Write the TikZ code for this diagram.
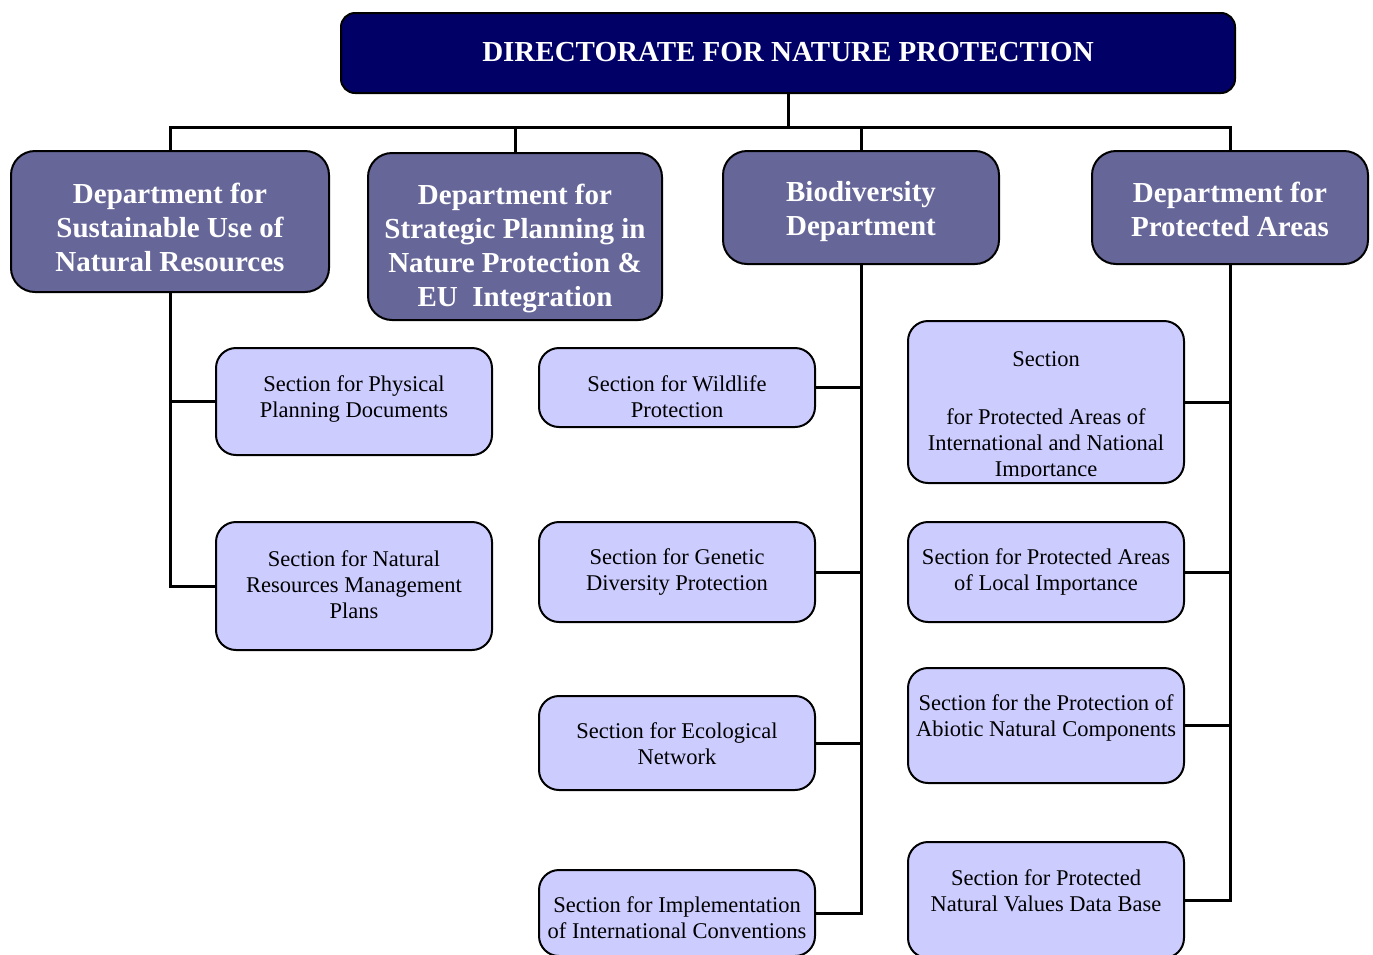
\documentclass[tikz,border=0pt]{standalone}
\usepackage{fontspec}
\setmainfont{Liberation Serif}
\definecolor{navy}{RGB}{0,0,102}
\definecolor{deptfill}{RGB}{102,102,153}
\definecolor{secfill}{RGB}{204,204,255}
\begin{document}
\begin{tikzpicture}[x=1pt,y=-1pt,
  topbox/.style={draw=black, line width=2pt, fill=navy, rounded corners=14pt, inner sep=0pt},
  deptbox/.style={draw=black, line width=2pt, fill=deptfill, rounded corners=24pt, inner sep=0pt},
  secbox/.style={draw=black, line width=2pt, fill=secfill, rounded corners=20pt, inner sep=0pt},
  titletext/.style={text=white, inner sep=0pt, font=\fontsize{29}{34}\selectfont\bfseries},
  depttext/.style={text=white, align=center, inner sep=0pt, font=\fontsize{29}{34}\selectfont\bfseries},
  sectext/.style={align=center, inner sep=0pt, font=\fontsize{22.5}{26}\selectfont},
  link/.style={line width=3pt, draw=black}]
\useasboundingbox (0,0) rectangle (1373,954);
\fill[white] (0,0) rectangle (1373,954);

% top box
\node[topbox, minimum width=894pt, minimum height=80pt] (top) at (788,53) {};
\node[titletext] (toptxt) at (788,52) {DIRECTORATE FOR NATURE PROTECTION};

% departments
\node[deptbox, minimum width=318pt, minimum height=141pt] (d1) at (170,221.5) {};
\node[depttext] (d1t) at (170,227) {Department for\\Sustainable Use of\\Natural Resources};
\node[deptbox, minimum width=294pt, minimum height=167pt] (d2) at (515,236.5) {};
\node[depttext] (d2t) at (515,248) {Department for\\Strategic Planning in\\Nature Protection \&\\EU\ \ Integration};
\node[deptbox, minimum width=276pt, minimum height=113pt] (d3) at (861,207.5) {};
\node[depttext] (d3t) at (861,212) {Biodiversity\\Department};
\node[deptbox, minimum width=276pt, minimum height=113pt] (d4) at (1230,207.5) {};
\node[depttext] (d4t) at (1230,209) {Department for\\Protected Areas};

% left sections
\node[secbox, minimum width=276pt, minimum height=107pt] (s11) at (354,401.5) {};
\node[sectext] (s11t) at (354,399) {Section for Physical\\Planning Documents};
\node[secbox, minimum width=276pt, minimum height=128pt] (s12) at (354,586) {};
\node[sectext] (s12t) at (354,585) {Section for Natural\\Resources Management\\Plans};

% middle sections
\node[secbox, minimum width=276pt, minimum height=79pt] (m1) at (677,387.5) {};
\node[sectext] (m1t) at (677,397) {Section for Wildlife\\Protection};
\node[secbox, minimum width=276pt, minimum height=100pt] (m2) at (677,572) {};
\node[sectext] (m2t) at (677,572) {Section for Genetic\\Diversity Protection};
\node[secbox, minimum width=276pt, minimum height=94pt] (m3) at (677,743) {};
\node[sectext] (m3t) at (677,744) {Section for Ecological\\Network};
\node[secbox, minimum width=276pt, minimum height=86pt] (m4) at (677,913) {};
\node[sectext] (m4t) at (677,918) {Section for Implementation\\of International Conventions};

% right sections
\node[secbox, minimum width=276pt, minimum height=162pt] (r1) at (1046,402) {};
\begin{scope}
  \clip (r1.north west) rectangle ([yshift=8pt]r1.south east);
  \node[sectext] (r1t) at (1046,416) {Section\\[32pt]for Protected Areas of\\International and National\\Importance};
\end{scope}
\node[secbox, minimum width=276pt, minimum height=100pt] (r2) at (1046,572) {};
\node[sectext] (r2t) at (1046,572) {Section for Protected Areas\\of Local Importance};
\node[secbox, minimum width=276pt, minimum height=115pt] (r3) at (1046,725.5) {};
\node[sectext] (r3t) at (1046,718) {Section for the Protection of\\Abiotic Natural Components};
\node[secbox, minimum width=276pt, minimum height=116pt] (r4) at (1046,900) {};
\node[sectext] (r4t) at (1046,891) {Section for Protected\\Natural Values Data Base};

% connectors
\coordinate (bus) at (788,127);
\draw[link] (top.south) -- (top.south |- bus);
\draw[link] (d1.north) -- (d1.north |- bus) -- (d4.north |- bus) -- (d4.north);
\draw[link] (d2.north) -- (d2.north |- bus);
\draw[link] (d3.north) -- (d3.north |- bus);

\draw[link] (d1.south) -- (d1.south |- s12.west) -- (s12.west);
\draw[link] (d1.south |- s11.west) -- (s11.west);

\draw[link] (d3.south) -- (d3.south |- m4.east) -- (m4.east);
\draw[link] (d3.south |- m1.east) -- (m1.east);
\draw[link] (d3.south |- m2.east) -- (m2.east);
\draw[link] (d3.south |- m3.east) -- (m3.east);

\draw[link] (d4.south) -- (d4.south |- r4.east) -- (r4.east);
\draw[link] (d4.south |- r1.east) -- (r1.east);
\draw[link] (d4.south |- r2.east) -- (r2.east);
\draw[link] (d4.south |- r3.east) -- (r3.east);
\end{tikzpicture}
\end{document}
